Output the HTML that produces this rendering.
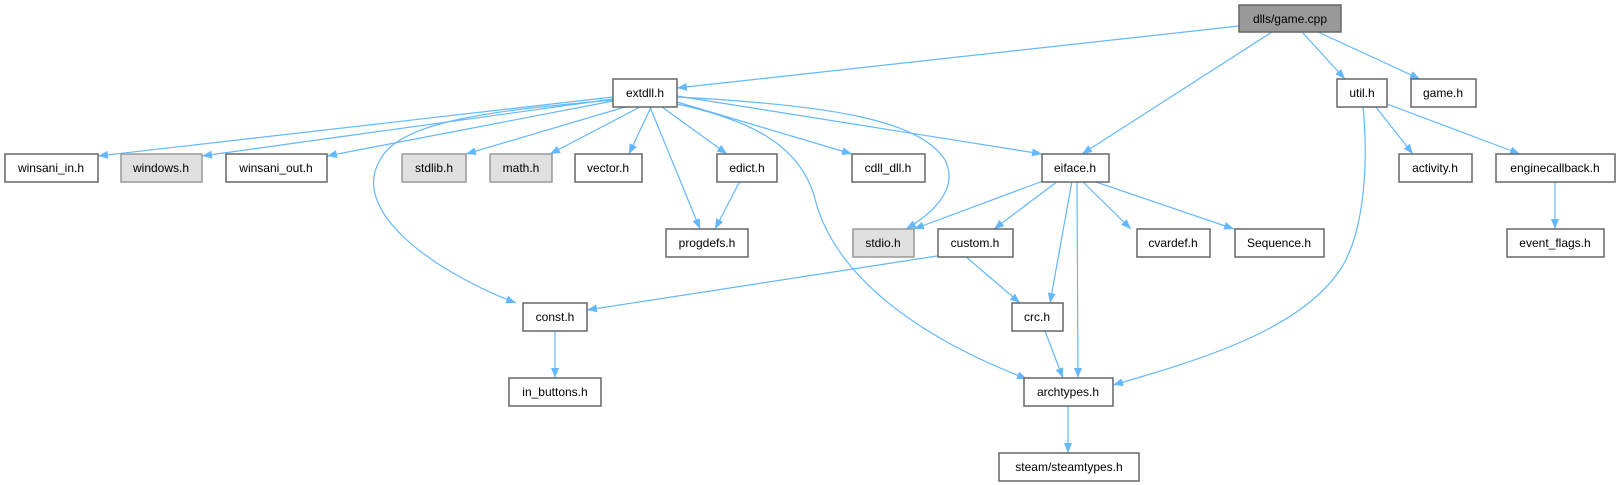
<!DOCTYPE html>
<html><head><meta charset="utf-8"><style>
html,body{margin:0;padding:0;background:#fff;width:1620px;height:485px;overflow:hidden}
svg text{font-family:"Liberation Sans",sans-serif;font-size:12px;text-anchor:middle;fill:#000}
.n{fill:#fff;stroke:#666;stroke-width:1.5}
.g{fill:#e0e0e0;stroke:#999;stroke-width:1.5}
.e{fill:none;stroke:#63b8ff;stroke-width:1.2}
</style></head><body>
<svg width="1620" height="485" viewBox="0 0 1620 485" xmlns="http://www.w3.org/2000/svg">
<defs><marker id="a" viewBox="0 0 10 8" refX="10" refY="4" markerWidth="10" markerHeight="8" markerUnits="userSpaceOnUse" orient="auto"><path d="M0,0L10,4L0,8z" fill="#63b8ff"/></marker></defs>
<g class="e" marker-end="url(#a)">
<path d="M1239,26 L677,88"/>
<path d="M1272,32 L1082,154"/>
<path d="M1302,32 L1345,79"/>
<path d="M1318,32 L1420,79"/>
<path d="M613,97 L98,156"/>
<path d="M613,99 L202,156"/>
<path d="M613,101 L327,156"/>
<path d="M625,107 L466,154"/>
<path d="M640,107 L550,154"/>
<path d="M651,107 L629,154"/>
<path d="M662,107 L727,154"/>
<path d="M650,107 L700,229"/>
<path d="M740,181 L715,229"/>
<path d="M677,102 L852,154"/>
<path d="M677,96 L1042,154"/>
<path d="M677,97 C830,105 920,120 945,160 C960,190 930,215 906,229"/>
<path d="M677,104 C760,122 800,150 814,195 C830,265 900,330 1027,379"/>
<path d="M613,100 C500,110 400,120 380,160 C350,210 430,270 516,303"/>
<path d="M1043,181 L914,229"/>
<path d="M1058,181 L994,229"/>
<path d="M1072,181 L1050,303"/>
<path d="M1077,181 L1078,378"/>
<path d="M1082,181 L1131,229"/>
<path d="M1093,181 L1234,229"/>
<path d="M1375,106 L1413,154"/>
<path d="M1387,104 L1520,154"/>
<path d="M1363,106 C1370,180 1360,240 1340,270 C1300,330 1200,360 1113,385"/>
<path d="M1555,181 L1555,229"/>
<path d="M937,256 L587,310"/>
<path d="M965,256 L1020,303"/>
<path d="M1045,331 L1063,378"/>
<path d="M555,331 L555,378"/>
<path d="M1068,406 L1068,453"/>
</g>
<rect x="1239" y="5" width="102" height="27" fill="#999" stroke="#666" stroke-width="1.5"/><text x="1290" y="23">dlls/game.cpp</text>
<rect class="n" x="613" y="79" width="64" height="28"/><text x="645" y="97">extdll.h</text>
<rect class="n" x="1337" y="79" width="50" height="28"/><text x="1362" y="97">util.h</text>
<rect class="n" x="1411" y="79" width="65" height="28"/><text x="1443" y="97">game.h</text>
<rect class="n" x="5" y="154" width="93" height="28"/><text x="51" y="172">winsani_in.h</text>
<rect class="g" x="121" y="154" width="81" height="28"/><text x="161" y="172">windows.h</text>
<rect class="n" x="226" y="154" width="101" height="28"/><text x="276" y="172">winsani_out.h</text>
<rect class="g" x="402" y="154" width="64" height="28"/><text x="434" y="172">stdlib.h</text>
<rect class="g" x="490" y="154" width="62" height="28"/><text x="521" y="172">math.h</text>
<rect class="n" x="575" y="154" width="67" height="28"/><text x="608" y="172">vector.h</text>
<rect class="n" x="717" y="154" width="60" height="28"/><text x="747" y="172">edict.h</text>
<rect class="n" x="852" y="154" width="73" height="28"/><text x="888" y="172">cdll_dll.h</text>
<rect class="n" x="1042" y="154" width="67" height="28"/><text x="1075" y="172">eiface.h</text>
<rect class="n" x="1399" y="154" width="73" height="28"/><text x="1435" y="172">activity.h</text>
<rect class="n" x="1496" y="154" width="119" height="28"/><text x="1555" y="172">enginecallback.h</text>
<rect class="n" x="666" y="229" width="82" height="28"/><text x="707" y="247">progdefs.h</text>
<rect class="g" x="853" y="229" width="61" height="28"/><text x="883" y="247">stdio.h</text>
<rect class="n" x="938" y="229" width="75" height="28"/><text x="975" y="247">custom.h</text>
<rect class="n" x="1137" y="229" width="73" height="28"/><text x="1173" y="247">cvardef.h</text>
<rect class="n" x="1235" y="229" width="89" height="28"/><text x="1279" y="247">Sequence.h</text>
<rect class="n" x="1507" y="229" width="97" height="28"/><text x="1555" y="247">event_flags.h</text>
<rect class="n" x="523" y="303" width="64" height="28"/><text x="555" y="321">const.h</text>
<rect class="n" x="1012" y="303" width="51" height="28"/><text x="1037" y="321">crc.h</text>
<rect class="n" x="509" y="378" width="92" height="28"/><text x="555" y="396">in_buttons.h</text>
<rect class="n" x="1024" y="378" width="89" height="28"/><text x="1068" y="396">archtypes.h</text>
<rect class="n" x="999" y="453" width="140" height="28"/><text x="1069" y="471">steam/steamtypes.h</text>
</svg>
</body></html>
